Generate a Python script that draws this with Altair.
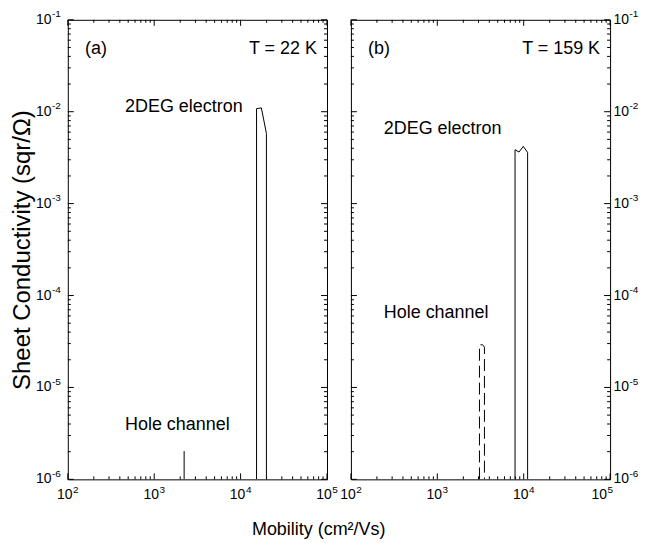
import altair as alt
import pandas as pd

FONT = "Liberation Sans"
W, H = 260, 461

# ---- data ----
# Panel (a), T = 22 K
a_2deg_mu = [1.53e4, 1.53e4, 1.74e4, 1.99e4, 1.99e4]
a_2deg_sigma = [1e-6, 1.08e-2, 1.1e-2, 5.8e-3, 1e-6]
a_hole_mu = [2220, 2220]
a_hole_sigma = [1e-6, 2.03e-6]
# Panel (b), T = 159 K
b_2deg_mu = [7940, 7940, 8830, 9890, 1.11e4, 1.11e4]
b_2deg_sigma = [1e-6, 3.86e-3, 3.64e-3, 4.2e-3, 3.6e-3, 1e-6]
b_hole_mu = [3076, 3076, 3350, 3513, 3513]
b_hole_sigma = [1e-6, 2.91e-5, 2.91e-5, 2.74e-5, 1e-6]

# annotations (text, mobility, conductivity)
a_notes_left = [("(a)", 158, 0.0485)]
a_notes_right = [("T = 22 K", 7.66e4, 0.0485), ("2DEG electron", 1.057e4, 1.139e-2),
                 ("Hole channel", 7480, 3.86e-6)]
b_notes_left = [("(b)", 158, 0.0485), ("2DEG electron", 240, 6.41e-3), ("Hole channel", 240, 6.53e-5)]
b_notes_right = [("T = 159 K", 7.66e4, 0.0485)]

# ticks
x_major = [1e2, 1e3, 1e4, 1e5]
x_major_exp = ["2", "3", "4", "5"]
x_minor = [k * 10 ** d for d in (2, 3, 4) for k in range(2, 10)]
y_major = [1e-6, 1e-5, 1e-4, 1e-3, 1e-2, 1e-1]
y_major_exp = ["-6", "-5", "-4", "-3", "-2", "-1"]
y_minor = [k * 10.0 ** d for d in (-6, -5, -4, -3, -2) for k in range(2, 10)]

XS = alt.Scale(type="log", domain=[1e2, 1e5], nice=False)
YS = alt.Scale(type="log", domain=[1e-6, 1e-1], nice=False)


def panel(series, notes_left, notes_right, side):
    if side == "left":
        yaxis = alt.Axis(title="Sheet Conductivity (sqr/\u03a9)", labels=False, ticks=False,
                         domain=False, grid=False, titleFont=FONT, titleFontSize=24,
                         titleFontWeight="normal", titlePadding=33, titleColor="black")
    else:
        yaxis = None

    def X(f):
        return alt.X(f, scale=XS, axis=None)

    def Y(f):
        return alt.Y(f, scale=YS, axis=yaxis)

    layers = []
    for mu, sig, dash in series:
        df = pd.DataFrame({"mu": mu, "sigma": sig, "i": list(range(len(mu)))})
        kw = {"strokeDash": dash} if dash else {}
        layers.append(alt.Chart(df).mark_line(color="black", strokeWidth=1, clip=True, **kw).encode(
            x=X("mu:Q"), y=Y("sigma:Q"), order="i:Q"))

    # ticks, inward on all four sides
    for vals, ln in ((x_major, 6), (x_minor, 3)):
        d = pd.DataFrame({"v": vals})
        layers.append(alt.Chart(d).mark_rule(color="black", strokeWidth=1).encode(
            x=X("v:Q"), y=alt.value(H), y2=alt.value(H - ln)))
        layers.append(alt.Chart(d).mark_rule(color="black", strokeWidth=1).encode(
            x=X("v:Q"), y=alt.value(0), y2=alt.value(ln)))
    for vals, ln in ((y_major, 6), (y_minor, 3)):
        d = pd.DataFrame({"v": vals})
        layers.append(alt.Chart(d).mark_rule(color="black", strokeWidth=1).encode(
            y=Y("v:Q"), x=alt.value(0), x2=alt.value(ln)))
        layers.append(alt.Chart(d).mark_rule(color="black", strokeWidth=1).encode(
            y=Y("v:Q"), x=alt.value(W), x2=alt.value(W - ln)))

    # x tick labels 10^n (right panel's last label sits a little left, clear of the y labels)
    groups = [(x_major, x_major_exp, 0)]
    if side == "right":
        groups = [(x_major[:-1], x_major_exp[:-1], 0), (x_major[-1:], x_major_exp[-1:], -8)]
    for vals, exps, shift in groups:
        dx_ = pd.DataFrame({"v": vals, "e": exps})
        layers.append(alt.Chart(dx_).mark_text(text="10", align="center", baseline="middle", font=FONT,
                                               fontSize=14, dx=-3 + shift, color="black").encode(
            x=X("v:Q"), y=alt.value(H + 16)))
        layers.append(alt.Chart(dx_).mark_text(align="left", baseline="middle", font=FONT,
                                               fontSize=10, dx=5.3 + shift, color="black").encode(
            x=X("v:Q"), y=alt.value(H + 10.5), text="e:N"))

    # y tick labels 10^n
    dy_ = pd.DataFrame({"v": y_major, "e": y_major_exp})
    if side == "left":
        layers.append(alt.Chart(dy_).mark_text(text="10", align="right", baseline="middle", font=FONT,
                                               fontSize=14, dx=-16.4, color="black").encode(
            y=Y("v:Q"), x=alt.value(0)))
        layers.append(alt.Chart(dy_).mark_text(align="right", baseline="middle", font=FONT,
                                               fontSize=10, dx=-7, dy=-5.5, color="black").encode(
            y=Y("v:Q"), x=alt.value(0), text="e:N"))
    else:
        layers.append(alt.Chart(dy_).mark_text(text="10", align="left", baseline="middle", font=FONT,
                                               fontSize=14, dx=3.4, color="black").encode(
            y=Y("v:Q"), x=alt.value(W)))
        layers.append(alt.Chart(dy_).mark_text(align="left", baseline="middle", font=FONT,
                                               fontSize=10, dx=19.5, dy=-5.5, color="black").encode(
            y=Y("v:Q"), x=alt.value(W), text="e:N"))

    # annotations
    for notes, al in ((notes_left, "left"), (notes_right, "right")):
        d = pd.DataFrame(notes, columns=["t", "mu", "sigma"])
        layers.append(alt.Chart(d).mark_text(align=al, baseline="middle", font=FONT, fontSize=18,
                                             color="black").encode(
            x=X("mu:Q"), y=Y("sigma:Q"), text="t:N"))

    return alt.layer(*layers).properties(width=W, height=H)


pa = panel([(a_2deg_mu, a_2deg_sigma, None), (a_hole_mu, a_hole_sigma, None)],
           a_notes_left, a_notes_right, "left")
pb = panel([(b_2deg_mu, b_2deg_sigma, None), (b_hole_mu, b_hole_sigma, [12, 5])],
           b_notes_left, b_notes_right, "right")

chart = alt.hconcat(
    pa, pb, spacing=24, bounds="flush",
    title=alt.TitleParams("Mobility (cm\u00b2/Vs)", orient="bottom", anchor="middle", fontSize=18,
                          font=FONT, fontWeight="normal", offset=18, dx=-6, color="black"),
).configure_view(stroke="black", strokeWidth=1).properties(
    padding={"left": 2, "top": 0, "right": 0, "bottom": 0}
)

chart.save("out.html", embed_options={"renderer": "svg", "actions": False})
